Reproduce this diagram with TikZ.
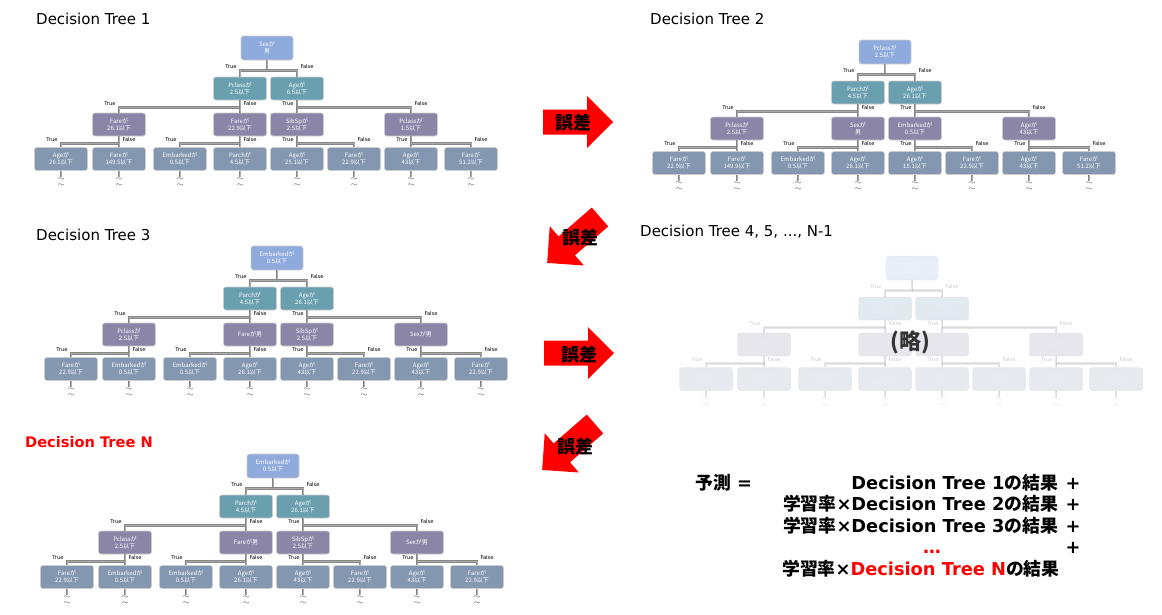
\documentclass[tikz,border=0pt]{standalone}
\usepackage{fontspec}
\setmainfont{DejaVu Sans}
\newfontfamily\cjk{Noto Sans CJK JP}
\newcommand\jp[1]{{\cjk #1}}
\usetikzlibrary{calc}
\definecolor{rootc}{HTML}{8FAADC}
\definecolor{lvtwo}{HTML}{6A9FB0}
\definecolor{lvthree}{HTML}{8B86A8}
\definecolor{lvfour}{HTML}{8497B0}
\definecolor{connc}{HTML}{878787}
\definecolor{conninner}{HTML}{ABABAB}
\tikzset{
  tbox/.style={rounded corners=2.5pt, draw=white!80!black, line width=0.6pt,
    minimum width=53pt, minimum height=23pt, inner sep=1pt, align=center,
    text=white, font=\cjk\fontsize{6}{7}\selectfont},
  lv1/.style={fill=rootc, minimum height=24pt, minimum width=52pt},
  lv2/.style={fill=lvtwo},
  lv3/.style={fill=lvthree},
  lv4/.style={fill=lvfour},
  conn/.style={draw=connc, double=conninner, double distance=0.9pt, line width=0.9pt},
  lab/.style={inner sep=0.3pt, font=\fontsize{5.2}{5.2}\selectfont, text=black},
  tilde/.style={inner sep=0pt, align=center, text=black!60, font=\cjk\fontsize{7}{6}\selectfont},
  title/.style={anchor=base west, inner sep=0pt, font=\fontsize{15}{15}\selectfont},
  formula/.style={inner sep=0pt, font=\bfseries\fontsize{17.8}{17.8}\selectfont},
  errlabel/.style={inner sep=0pt, font=\cjk\bfseries\fontsize{18}{18}\selectfont, text=black},
}
\newcommand\drawtree[3]{%
\begin{scope}[shift={#2}]
\foreach \t [count=\i] in {#3} {
  \pgfmathsetmacro\nx{{267,240,297,119,240,297,411,61,119,180,240,297,354,411,471}[\i-1]}
  \pgfmathsetmacro\ny{{48,88.5,88.5,124.5,124.5,124.5,124.5,159,159,159,159,159,159,159,159}[\i-1]}
  \pgfmathtruncatemacro\lv{\i<2 ? 1 : (\i<4 ? 2 : (\i<8 ? 3 : 4))}
  \node[tbox, lv\lv] (#1-\i) at (\nx,\ny) {\t};
}
\foreach \p/\a/\b/\d in {1/2/3/10,2/4/5/7,3/6/7/7,4/8/9/7,5/10/11/7,6/12/13/7,7/14/15/7}{
  \draw[conn] (#1-\p.south) -- ++(0,\d) coordinate (#1-m\p) -| (#1-\a.north);
  \draw[conn] (#1-m\p) -| (#1-\b.north);
  \node[lab, anchor=south east] (#1-T\p) at ($(#1-\a.north |- #1-m\p)+(-3,-1.6)$) {True};
  \node[lab, anchor=south west] (#1-F\p) at ($(#1-\b.north |- #1-m\p)+(3,-1.6)$) {False};
}
\foreach \i in {8,...,15}{
  \draw[conn] (#1-\i.south) -- ++(0,6) coordinate (#1-s\i);
  \node[tilde, anchor=north] (#1-w\i) at ($(#1-s\i)+(0,1)$) {〜\\〜};
}
\end{scope}}
\newcommand\errarrow[2]{%
\begin{scope}[shift={#1}, rotate=#2]
\fill[red] (0,-12.5) -- (44,-12.5) -- (44,-26) -- (70,0) -- (44,26) -- (44,12.5) -- (0,12.5) -- cycle;
\end{scope}}
\begin{document}
\begin{tikzpicture}[x=1pt, y=-1pt]
\useasboundingbox (0,0) rectangle (1162,614);
\fill[white] (0,0) rectangle (1162,614);

% titles
\node[title] (title1) at (36,24) {Decision Tree 1};
\node[title] (title2) at (650,24) {Decision Tree 2};
\node[title] (title3) at (36,240) {Decision Tree 3};
\node[title] (title4) at (640,236) {Decision Tree 4, 5, ..., N-1};
\node[title, text=red, font=\bfseries\fontsize{14.6}{14.6}\selectfont] (titleN) at (25,447) {Decision Tree N};

% trees
\drawtree{ta}{(0,0)}{Sexが\\男, Pclassが\\2.5以下, Ageが\\6.5以下, Fareが\\26.1以下, Fareが\\22.9以下, SibSpが\\2.5以下, Pclassが\\1.5以下, Ageが\\26.1以下, Fareが\\149.5以下, Embarkedが\\0.5以下, Parchが\\4.5以下, Ageが\\25.1以下, Fareが\\22.9以下, Ageが\\43以下, Fareが\\51.2以下}

\drawtree{tb}{(618,4)}{Pclassが\\2.5以下, Parchが\\4.5以下, Ageが\\26.1以下, Pclassが\\2.5以下, Sexが\\男, Embarkedが\\0.5以下, Ageが\\43以下, Fareが\\22.9以下, Fareが\\149.9以下, Embarkedが\\0.5以下, Ageが\\26.1以下, Ageが\\15.1以下, Fareが\\22.9以下, Ageが\\43以下, Fareが\\51.2以下}

\drawtree{tc}{(10,210)}{Embarkedが\\0.5以下, Parchが\\4.5以下, Ageが\\26.1以下, Pclassが\\2.5以下, Fareが男, SibSpが\\2.5以下, Sexが男, Fareが\\22.9以下, Embarkedが\\0.5以下, Embarkedが\\0.5以下, Ageが\\26.1以下, Ageが\\43以下, Fareが\\22.9以下, Ageが\\43以下, Fareが\\22.9以下}

\begin{scope}[opacity=0.2]
\drawtree{td}{(645,220)}{Embarkedが\\0.5以下, Parchが\\4.5以下, Ageが\\26.1以下, Pclassが\\2.5以下, Fareが男, SibSpが\\2.5以下, Sexが男, Fareが\\22.9以下, Embarkedが\\0.5以下, Embarkedが\\0.5以下, Ageが\\26.1以下, Ageが\\43以下, Fareが\\22.9以下, Ageが\\43以下, Fareが\\22.9以下}
\end{scope}
\node[inner sep=0pt, text=black!80, font=\cjk\bfseries\fontsize{22}{22}\selectfont] (omit) at (910,342) {(略)};

\drawtree{tn}{(6,418)}{Embarkedが\\0.5以下, Parchが\\4.5以下, Ageが\\26.1以下, Pclassが\\2.5以下, Fareが男, SibSpが\\2.5以下, Sexが男, Fareが\\22.9以下, Embarkedが\\0.5以下, Embarkedが\\0.5以下, Ageが\\26.1以下, Ageが\\43以下, Fareが\\22.9以下, Ageが\\43以下, Fareが\\22.9以下}

% error arrows
\errarrow{(543,122)}{0}
\node[errlabel] (e1) at (573,123) {誤差};
\errarrow{(600,217)}{221}
\node[errlabel] (e2) at (580,238) {誤差};
\errarrow{(544,353)}{0}
\node[errlabel] (e3) at (579,355) {誤差};
\errarrow{(595,424)}{221}
\node[errlabel] (e4) at (575,447) {誤差};

% formula
\node[formula, anchor=base west] (pred) at (695,489) {\jp{予測} =};
\node[formula, anchor=base east] (row1) at (1058,489) {Decision Tree 1\jp{の結果}};
\node[formula, anchor=base east] (row2) at (1058,510.5) {\jp{学習率}×Decision Tree 2\jp{の結果}};
\node[formula, anchor=base east] (row3) at (1058,532) {\jp{学習率}×Decision Tree 3\jp{の結果}};
\node[formula, anchor=base, text=red] (row4) at (932,553) {…};
\node[formula, anchor=base west] (row5) at (782,575) {\jp{学習率}×\textcolor{red}{Decision Tree N}\jp{の結果}};
\foreach \yy/\k in {489/1,510.5/2,532/3,553/4}{
  \node[formula, anchor=base] (plus\k) at (1073,\yy) {+};
}
\end{tikzpicture}
\end{document}
